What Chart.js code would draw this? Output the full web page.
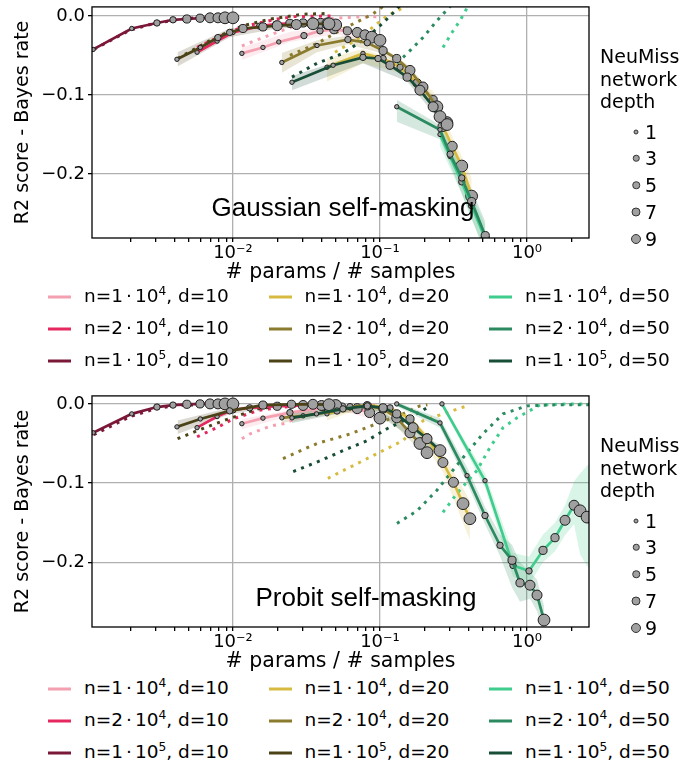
<!DOCTYPE html>
<html>
<head>
<meta charset="utf-8">
<script src="https://cdn.jsdelivr.net/npm/chart.js@4.4.1/dist/chart.umd.min.js"></script>
<style>
  body { margin: 0; background: #fff; }
  #page { position: relative; width: 686px; height: 769px; overflow: hidden; font-family: "DejaVu Sans", sans-serif; color: #000; }
  canvas { position: absolute; left: 0; }
  .t { position: absolute; white-space: nowrap; }
  .note { font-family: "Liberation Sans", Arial, sans-serif; font-size: 26px; line-height: 26px; transform: translate(-50%, -50%); }
  .leg { font-size: 18.5px; line-height: 22px; transform: translateY(-50%); }
  .leg sup { font-size: 66%; vertical-align: 0; position: relative; top: -0.55em; }
  .cd { margin: 0 3px; }
  .sw { position: absolute; height: 3px; width: 23px; transform: translateY(-50%); }
  .depth { font-size: 19px; line-height: 22.5px; }
  .dot { position: absolute; border-radius: 50%; background: #a0a0a0; border: 1px solid #333; box-sizing: border-box; transform: translate(-50%, -50%); }
</style>
</head>
<body>
<div id="page">
  <canvas id="gauss" width="686" height="286" style="top:0"></canvas>
  <canvas id="probit" width="686" height="286" style="top:389px"></canvas>
</div>
<script>
// ---- axes ----
const X_MIN = 0.0011, X_MAX = 2.64;
const X_MAJOR = [0.01, 0.1, 1];
const X_MAJOR_LABELS = ['10⁻²', '10⁻¹', '10⁰'];
const X_MINOR = [0.002, 0.003, 0.004, 0.005, 0.006, 0.007, 0.008, 0.009,
  0.02, 0.03, 0.04, 0.05, 0.06, 0.07, 0.08, 0.09,
  0.2, 0.3, 0.4, 0.5, 0.6, 0.7, 0.8, 0.9, 2];
const Y_TICKS = [-0.2, -0.1, 0];
const Y_TICK_LABELS = ['−0.2', '−0.1', '0.0'];
const G_Y_RANGE = [-0.281, 0.0113];
const P_Y_RANGE = [-0.2818, 0.0101];

// ---- legend text ----
const N_MANT = ['1', '2', '1'];
const N_EXP = ['4', '4', '5'];
const D_VALUES = ['10', '20', '50'];
const DEPTHS = [1, 3, 5, 7, 9];
const LEGEND_DOT = [5, 6.5, 7.5, 9, 10];
const DEPTH_RADIUS = { 0: 0, 1: 2.2, 3: 3.2, 5: 4.1, 7: 5, 9: 5.9 };

// colours: columns d=10, 20, 50 ; rows n=1e4, 2e4, 1e5
const PALETTE = [
  ['#f4a0b0', '#e5285f', '#7b1838'],
  ['#d6bb40', '#8b7b2e', '#4b4317'],
  ['#3fcc8d', '#2b8a5f', '#184d36']
];

// ================= Gaussian self-masking =================
// d=10, n=1e4
const G_X_D10_N1E4 = [0.0115, 0.0160, 0.0205, 0.0304, 0.0391, 0.0486, 0.060, 0.070, 0.079, 0.088, 0.100];
const G_Y_D10_N1E4 = [-0.0475, -0.040, -0.033, -0.025, -0.019, -0.0175, -0.019, -0.021, -0.024, -0.027, -0.031];
const G_DEP_D10_N1E4 = [1, 1, 1, 3, 3, 5, 5, 7, 7, 9, 9];
const G_DX_D10_N1E4 = [0.0115, 0.016, 0.0199, 0.0244, 0.035, 0.05, 0.07, 0.1];
const G_DY_D10_N1E4 = [-0.038, -0.0275, -0.021, -0.015, -0.006, -0.003, -0.0015, -0.001];
const G_BX_D10_N1E4 = [0.0115, 0.0244, 0.05, 0.1];
const G_LO_D10_N1E4 = [-0.056, -0.033, -0.023, -0.036];
const G_HI_D10_N1E4 = [-0.040, -0.020, -0.013, -0.027];
// d=10, n=2e4
const G_X_D10_N2E4 = [0.0057, 0.0078, 0.0100, 0.0152, 0.0196, 0.0244, 0.030, 0.035, 0.0395, 0.0442, 0.050];
const G_Y_D10_N2E4 = [-0.046, -0.032, -0.021, -0.013, -0.0105, -0.0095, -0.009, -0.009, -0.0095, -0.010, -0.0115];
const G_DEP_D10_N2E4 = [1, 1, 1, 3, 3, 5, 5, 7, 7, 9, 9];
const G_DX_D10_N2E4 = [0.0057, 0.0095, 0.0125, 0.020, 0.026, 0.050];
const G_DY_D10_N2E4 = [-0.040, -0.020, -0.0125, -0.004, -0.001, 0.0];
// d=10, n=1e5
const G_X_D10_N1E5 = [0.0009, 0.00112, 0.00205, 0.00304, 0.00391, 0.00486, 0.00597, 0.00698, 0.00791, 0.00883, 0.0100];
const G_Y_D10_N1E5 = [-0.052, -0.0425, -0.016, -0.009, -0.005, -0.004, -0.003, -0.0025, -0.0025, -0.0025, -0.0025];
const G_DEP_D10_N1E5 = [0, 1, 1, 3, 3, 5, 5, 7, 7, 9, 9];
const G_DX_D10_N1E5 = [0.0009, 0.0012, 0.002, 0.003, 0.005, 0.01];
const G_DY_D10_N1E5 = [-0.052, -0.040, -0.018, -0.009, -0.003, -0.001];
// d=20, n=1e4
const G_X_D20_N1E4 = [0.0436, 0.0766, 0.105, 0.137, 0.179, 0.230, 0.268, 0.310, 0.360, 0.420];
const G_Y_D20_N1E4 = [-0.065, -0.0475, -0.054, -0.065, -0.085, -0.106, -0.140, -0.165, -0.190, -0.228];
const G_DEP_D20_N1E4 = [1, 1, 3, 3, 5, 5, 7, 7, 9, 9];
const G_DX_D20_N1E4 = [0.0494, 0.0731, 0.0954, 0.1116, 0.13, 0.143, 0.16];
const G_DY_D20_N1E4 = [-0.046, -0.0275, -0.010, 0.0, 0.006, 0.010, 0.015];
const G_BX_D20_N1E4 = [0.0436, 0.0766, 0.137, 0.230, 0.310, 0.420];
const G_LO_D20_N1E4 = [-0.083, -0.060, -0.072, -0.116, -0.182, -0.250];
const G_HI_D20_N1E4 = [-0.054, -0.042, -0.058, -0.096, -0.152, -0.205];
// d=20, n=2e4
const G_X_D20_N2E4 = [0.0215, 0.0373, 0.0605, 0.082, 0.105, 0.130, 0.160, 0.196, 0.244, 0.285];
const G_Y_D20_N2E4 = [-0.059, -0.0375, -0.030, -0.034, -0.044, -0.054, -0.069, -0.090, -0.115, -0.135];
const G_DEP_D20_N2E4 = [1, 1, 3, 3, 5, 5, 7, 7, 9, 9];
const G_DX_D20_N2E4 = [0.0244, 0.0373, 0.056, 0.0766, 0.0896, 0.1, 0.11];
const G_DY_D20_N2E4 = [-0.050, -0.035, -0.0165, -0.004, 0.0025, 0.009, 0.015];
const G_BX_D20_N2E4 = [0.0215, 0.0373, 0.0605, 0.105, 0.16, 0.244];
const G_LO_D20_N2E4 = [-0.072, -0.046, -0.036, -0.048, -0.074, -0.121];
const G_HI_D20_N2E4 = [-0.047, -0.031, -0.025, -0.040, -0.064, -0.108];
// d=20, n=1e5
const G_X_D20_N1E5 = [0.00416, 0.0060, 0.0079, 0.0095, 0.0117, 0.0160, 0.0200, 0.0270, 0.0350, 0.0450];
const G_Y_D20_N1E5 = [-0.055, -0.040, -0.0275, -0.021, -0.016, -0.014, -0.0125, -0.011, -0.010, -0.010];
const G_DEP_D20_N1E5 = [1, 1, 3, 3, 5, 5, 7, 7, 9, 9];
const G_DX_D20_N1E5 = [0.0042, 0.0075, 0.0115, 0.018, 0.030, 0.045];
const G_DY_D20_N1E5 = [-0.054, -0.028, -0.013, -0.004, 0.002, 0.003];
const G_BX_D20_N1E5 = [0.0042, 0.0095, 0.02, 0.045];
const G_LO_D20_N1E5 = [-0.064, -0.027, -0.016, -0.013];
const G_HI_D20_N1E5 = [-0.046, -0.016, -0.010, -0.008];
// d=50, n=1e4
const G_X_D50_N1E4 = [0.256, 0.300, 0.360, 0.420, 0.520, 0.600];
const G_Y_D50_N1E4 = [-0.150, -0.178, -0.210, -0.240, -0.282, -0.310];
const G_DEP_D50_N1E4 = [1, 1, 3, 3, 5, 5];
const G_DX_D50_N1E4 = [0.2683, 0.309, 0.35, 0.391, 0.41];
const G_DY_D50_N1E4 = [-0.040, -0.021, -0.006, 0.010, 0.015];
const G_BX_D50_N1E4 = [0.256, 0.36, 0.52];
const G_LO_D50_N1E4 = [-0.165, -0.225, -0.300];
const G_HI_D50_N1E4 = [-0.140, -0.195, -0.265];
// d=50, n=2e4
const G_X_D50_N2E4 = [0.130, 0.256, 0.300, 0.360, 0.420, 0.520, 0.600];
const G_Y_D50_N2E4 = [-0.115, -0.144, -0.175, -0.205, -0.235, -0.278, -0.310];
const G_DEP_D50_N2E4 = [1, 1, 3, 3, 5, 5, 7];
const G_DX_D50_N2E4 = [0.1305, 0.16, 0.196, 0.2443, 0.29, 0.31];
const G_DY_D50_N2E4 = [-0.060, -0.044, -0.0275, -0.006, 0.009, 0.015];
const G_BX_D50_N2E4 = [0.13, 0.256, 0.36, 0.52];
const G_LO_D50_N2E4 = [-0.134, -0.156, -0.225, -0.300];
const G_HI_D50_N2E4 = [-0.106, -0.138, -0.190, -0.260];
// d=50, n=1e5
const G_X_D50_N1E5 = [0.0252, 0.048, 0.0766, 0.097, 0.117, 0.153, 0.187, 0.230, 0.256, 0.286];
const G_Y_D50_N1E5 = [-0.084, -0.0625, -0.0525, -0.054, -0.0625, -0.0775, -0.094, -0.115, -0.1275, -0.1375];
const G_DEP_D50_N1E5 = [1, 1, 3, 3, 5, 5, 7, 7, 9, 9];
const G_DX_D50_N1E5 = [0.0252, 0.0373, 0.056, 0.0816, 0.1, 0.1116, 0.1265, 0.14];
const G_DY_D50_N1E5 = [-0.0775, -0.060, -0.0475, -0.0275, -0.0125, -0.004, 0.006, 0.015];
const G_BX_D50_N1E5 = [0.0252, 0.0766, 0.153, 0.256];
const G_LO_D50_N1E5 = [-0.094, -0.060, -0.083, -0.133];
const G_HI_D50_N1E5 = [-0.076, -0.047, -0.072, -0.121];

// ================= Probit self-masking =================
// d=10, n=1e4
const P_X_D10_N1E4 = [0.0115, 0.016, 0.0244, 0.041, 0.055, 0.070, 0.085, 0.100];
const P_Y_D10_N1E4 = [-0.025, -0.018, -0.011, -0.005, -0.004, -0.006, -0.011, -0.018];
const P_DEP_D10_N1E4 = [1, 1, 3, 3, 5, 7, 7, 9];
const P_DX_D10_N1E4 = [0.0115, 0.013, 0.018, 0.022, 0.030, 0.045, 0.070, 0.100];
const P_DY_D10_N1E4 = [-0.044, -0.038, -0.028, -0.025, -0.015, -0.005, -0.002, -0.001];
const P_BX_D10_N1E4 = [0.0115, 0.0244, 0.05, 0.1];
const P_LO_D10_N1E4 = [-0.032, -0.015, -0.007, -0.022];
const P_HI_D10_N1E4 = [-0.019, -0.008, -0.002, -0.014];
// d=10, n=2e4
const P_X_D10_N2E4 = [0.0057, 0.0078, 0.0100, 0.0130, 0.0200, 0.0300, 0.0400, 0.0500];
const P_Y_D10_N2E4 = [-0.030, -0.016, -0.0075, -0.005, -0.003, -0.002, -0.002, -0.002];
const P_DEP_D10_N2E4 = [1, 1, 3, 3, 5, 7, 7, 9];
const P_DX_D10_N2E4 = [0.0057, 0.0078, 0.0100, 0.015, 0.025, 0.050];
const P_DY_D10_N2E4 = [-0.0415, -0.030, -0.019, -0.008, -0.003, -0.001];
// d=10, n=1e5
const P_X_D10_N1E5 = [0.0009, 0.00112, 0.00205, 0.00304, 0.00391, 0.00486, 0.00597, 0.00698, 0.00791, 0.00883, 0.0100];
const P_Y_D10_N1E5 = [-0.045, -0.0365, -0.0126, -0.004, -0.0015, -0.0005, 0.0, 0.0, 0.0, 0.0, 0.0];
const P_DEP_D10_N1E5 = [0, 1, 1, 3, 3, 5, 5, 7, 7, 9, 9];
const P_DX_D10_N1E5 = [0.0009, 0.0011, 0.002, 0.003, 0.004, 0.01];
const P_DY_D10_N1E5 = [-0.050, -0.040, -0.016, -0.006, -0.002, 0.0];
// d=20, n=1e4
const P_X_D20_N1E4 = [0.0436, 0.0625, 0.0816, 0.117, 0.160, 0.209, 0.268, 0.316, 0.367, 0.409];
const P_Y_D20_N1E4 = [-0.0126, -0.005, -0.0013, -0.005, -0.019, -0.043, -0.074, -0.099, -0.126, -0.145];
const P_DEP_D20_N1E4 = [1, 1, 3, 3, 5, 5, 7, 7, 9, 9];
const P_DX_D20_N1E4 = [0.0442, 0.0625, 0.095, 0.143, 0.196, 0.268, 0.391];
const P_DY_D20_N1E4 = [-0.094, -0.080, -0.063, -0.0465, -0.0214, -0.0126, -0.0025];
const P_BX_D20_N1E4 = [0.0436, 0.08, 0.16, 0.268, 0.409];
const P_LO_D20_N1E4 = [-0.021, -0.004, -0.024, -0.086, -0.172];
const P_HI_D20_N1E4 = [-0.005, 0.0, -0.014, -0.062, -0.122];
// d=20, n=2e4
const P_X_D20_N2E4 = [0.0215, 0.030, 0.051, 0.0625, 0.082, 0.105, 0.130, 0.160, 0.187, 0.209];
const P_Y_D20_N2E4 = [-0.0176, -0.015, -0.009, -0.0035, -0.0025, -0.0063, -0.0176, -0.0365, -0.050, -0.0616];
const P_DEP_D20_N2E4 = [1, 1, 3, 3, 5, 5, 7, 7, 9, 9];
const P_DX_D20_N2E4 = [0.0219, 0.0373, 0.0625, 0.095, 0.143, 0.187, 0.21];
const P_DY_D20_N2E4 = [-0.069, -0.050, -0.038, -0.025, -0.0126, -0.0025, -0.001];
const P_BX_D20_N2E4 = [0.0215, 0.05, 0.1, 0.209];
const P_LO_D20_N2E4 = [-0.024, -0.012, -0.009, -0.067];
const P_HI_D20_N2E4 = [-0.012, -0.006, -0.004, -0.056];
// d=20, n=1e5
const P_X_D20_N1E5 = [0.00416, 0.006, 0.0095, 0.016, 0.025, 0.035, 0.045];
const P_Y_D20_N1E5 = [-0.029, -0.019, -0.0088, -0.0015, -0.0005, -0.0005, -0.001];
const P_DEP_D20_N1E5 = [1, 1, 3, 5, 5, 7, 9];
const P_DX_D20_N1E5 = [0.0042, 0.0057, 0.0076, 0.0100, 0.015, 0.025, 0.045];
const P_DY_D20_N1E5 = [-0.044, -0.034, -0.025, -0.017, -0.006, -0.001, 0.0];
const P_BX_D20_N1E5 = [0.0042, 0.0095, 0.02];
const P_LO_D20_N1E5 = [-0.038, -0.013, -0.003];
const P_HI_D20_N1E5 = [-0.021, -0.005, 0.0];
// d=50, n=1e4
const P_X_D50_N1E4 = [0.264, 0.518, 0.803, 1.032, 1.285, 1.55, 1.814, 2.089, 2.295, 2.56, 2.9];
const P_Y_D50_N1E4 = [0.0, -0.097, -0.204, -0.211, -0.185, -0.169, -0.147, -0.128, -0.135, -0.143, -0.150];
const P_DEP_D50_N1E4 = [1, 1, 3, 3, 5, 5, 7, 7, 9, 9, 9];
const P_DX_D50_N1E4 = [0.268, 0.334, 0.457, 0.56, 0.687, 0.855, 1.225, 2.0, 2.64];
const P_DY_D50_N1E4 = [-0.137, -0.113, -0.084, -0.055, -0.030, -0.0176, -0.0013, 0.0, 0.0];
const P_BX_D50_N1E4 = [0.264, 0.518, 0.803, 1.032, 1.285, 1.55, 1.814, 2.089, 2.295, 2.56, 2.9];
const P_LO_D50_N1E4 = [-0.003, -0.106, -0.218, -0.228, -0.200, -0.186, -0.166, -0.152, -0.190, -0.205, -0.210];
const P_HI_D50_N1E4 = [0.002, -0.088, -0.188, -0.193, -0.165, -0.150, -0.128, -0.098, -0.088, -0.078, -0.070];
// d=50, n=2e4
const P_X_D50_N2E4 = [0.130, 0.256, 0.391, 0.518, 0.655, 0.791, 0.896, 1.048, 1.170, 1.305];
const P_Y_D50_N2E4 = [0.0, -0.024, -0.0906, -0.141, -0.1786, -0.1975, -0.226, -0.229, -0.2415, -0.273];
const P_DEP_D50_N2E4 = [1, 1, 1, 3, 3, 5, 5, 7, 7, 9];
const P_DX_D50_N2E4 = [0.1305, 0.179, 0.244, 0.367, 0.50, 0.687, 1.0, 1.6, 2.64];
const P_DY_D50_N2E4 = [-0.151, -0.135, -0.109, -0.068, -0.038, -0.0126, -0.0025, -0.001, -0.001];
const P_BX_D50_N2E4 = [0.13, 0.256, 0.391, 0.518, 0.655, 0.791, 0.896, 1.048, 1.17, 1.305];
const P_LO_D50_N2E4 = [-0.003, -0.030, -0.100, -0.152, -0.192, -0.232, -0.250, -0.246, -0.262, -0.292];
const P_HI_D50_N2E4 = [0.002, -0.018, -0.080, -0.130, -0.165, -0.178, -0.200, -0.212, -0.222, -0.255];
// d=50, n=1e5
const P_X_D50_N1E5 = [0.0252, 0.037, 0.056, 0.082, 0.105, 0.130, 0.168, 0.209, 0.256];
const P_Y_D50_N1E5 = [-0.0176, -0.0126, -0.0063, -0.0025, -0.005, -0.0126, -0.030, -0.044, -0.059];
const P_DEP_D50_N1E5 = [1, 1, 3, 3, 5, 5, 7, 7, 9];
const P_DX_D50_N1E5 = [0.0257, 0.039, 0.056, 0.0816, 0.1116, 0.153, 0.209];
const P_DY_D50_N1E5 = [-0.0855, -0.072, -0.059, -0.0465, -0.0314, -0.019, -0.005];
const P_BX_D50_N1E5 = [0.0252, 0.082, 0.256];
const P_LO_D50_N1E5 = [-0.024, -0.005, -0.066];
const P_HI_D50_N1E5 = [-0.011, 0.0, -0.052];

const G_SERIES = [
  { c: PALETTE[0][0], x: G_X_D10_N1E4, y: G_Y_D10_N1E4, dep: G_DEP_D10_N1E4, dx: G_DX_D10_N1E4, dy: G_DY_D10_N1E4, bx: G_BX_D10_N1E4, lo: G_LO_D10_N1E4, hi: G_HI_D10_N1E4 },
  { c: PALETTE[0][1], x: G_X_D10_N2E4, y: G_Y_D10_N2E4, dep: G_DEP_D10_N2E4, dx: G_DX_D10_N2E4, dy: G_DY_D10_N2E4 },
  { c: PALETTE[0][2], x: G_X_D10_N1E5, y: G_Y_D10_N1E5, dep: G_DEP_D10_N1E5, dx: G_DX_D10_N1E5, dy: G_DY_D10_N1E5 },
  { c: PALETTE[1][0], x: G_X_D20_N1E4, y: G_Y_D20_N1E4, dep: G_DEP_D20_N1E4, dx: G_DX_D20_N1E4, dy: G_DY_D20_N1E4, bx: G_BX_D20_N1E4, lo: G_LO_D20_N1E4, hi: G_HI_D20_N1E4 },
  { c: PALETTE[1][1], x: G_X_D20_N2E4, y: G_Y_D20_N2E4, dep: G_DEP_D20_N2E4, dx: G_DX_D20_N2E4, dy: G_DY_D20_N2E4, bx: G_BX_D20_N2E4, lo: G_LO_D20_N2E4, hi: G_HI_D20_N2E4 },
  { c: PALETTE[1][2], x: G_X_D20_N1E5, y: G_Y_D20_N1E5, dep: G_DEP_D20_N1E5, dx: G_DX_D20_N1E5, dy: G_DY_D20_N1E5, bx: G_BX_D20_N1E5, lo: G_LO_D20_N1E5, hi: G_HI_D20_N1E5 },
  { c: PALETTE[2][0], x: G_X_D50_N1E4, y: G_Y_D50_N1E4, dep: G_DEP_D50_N1E4, dx: G_DX_D50_N1E4, dy: G_DY_D50_N1E4, bx: G_BX_D50_N1E4, lo: G_LO_D50_N1E4, hi: G_HI_D50_N1E4 },
  { c: PALETTE[2][1], x: G_X_D50_N2E4, y: G_Y_D50_N2E4, dep: G_DEP_D50_N2E4, dx: G_DX_D50_N2E4, dy: G_DY_D50_N2E4, bx: G_BX_D50_N2E4, lo: G_LO_D50_N2E4, hi: G_HI_D50_N2E4 },
  { c: PALETTE[2][2], x: G_X_D50_N1E5, y: G_Y_D50_N1E5, dep: G_DEP_D50_N1E5, dx: G_DX_D50_N1E5, dy: G_DY_D50_N1E5, bx: G_BX_D50_N1E5, lo: G_LO_D50_N1E5, hi: G_HI_D50_N1E5 }
];

const P_SERIES = [
  { c: PALETTE[0][0], x: P_X_D10_N1E4, y: P_Y_D10_N1E4, dep: P_DEP_D10_N1E4, dx: P_DX_D10_N1E4, dy: P_DY_D10_N1E4, bx: P_BX_D10_N1E4, lo: P_LO_D10_N1E4, hi: P_HI_D10_N1E4 },
  { c: PALETTE[0][1], x: P_X_D10_N2E4, y: P_Y_D10_N2E4, dep: P_DEP_D10_N2E4, dx: P_DX_D10_N2E4, dy: P_DY_D10_N2E4 },
  { c: PALETTE[0][2], x: P_X_D10_N1E5, y: P_Y_D10_N1E5, dep: P_DEP_D10_N1E5, dx: P_DX_D10_N1E5, dy: P_DY_D10_N1E5 },
  { c: PALETTE[1][0], x: P_X_D20_N1E4, y: P_Y_D20_N1E4, dep: P_DEP_D20_N1E4, dx: P_DX_D20_N1E4, dy: P_DY_D20_N1E4, bx: P_BX_D20_N1E4, lo: P_LO_D20_N1E4, hi: P_HI_D20_N1E4 },
  { c: PALETTE[1][1], x: P_X_D20_N2E4, y: P_Y_D20_N2E4, dep: P_DEP_D20_N2E4, dx: P_DX_D20_N2E4, dy: P_DY_D20_N2E4, bx: P_BX_D20_N2E4, lo: P_LO_D20_N2E4, hi: P_HI_D20_N2E4 },
  { c: PALETTE[1][2], x: P_X_D20_N1E5, y: P_Y_D20_N1E5, dep: P_DEP_D20_N1E5, dx: P_DX_D20_N1E5, dy: P_DY_D20_N1E5, bx: P_BX_D20_N1E5, lo: P_LO_D20_N1E5, hi: P_HI_D20_N1E5 },
  { c: PALETTE[2][0], x: P_X_D50_N1E4, y: P_Y_D50_N1E4, dep: P_DEP_D50_N1E4, dx: P_DX_D50_N1E4, dy: P_DY_D50_N1E4, bx: P_BX_D50_N1E4, lo: P_LO_D50_N1E4, hi: P_HI_D50_N1E4 },
  { c: PALETTE[2][1], x: P_X_D50_N2E4, y: P_Y_D50_N2E4, dep: P_DEP_D50_N2E4, dx: P_DX_D50_N2E4, dy: P_DY_D50_N2E4, bx: P_BX_D50_N2E4, lo: P_LO_D50_N2E4, hi: P_HI_D50_N2E4 },
  { c: PALETTE[2][2], x: P_X_D50_N1E5, y: P_Y_D50_N1E5, dep: P_DEP_D50_N1E5, dx: P_DX_D50_N1E5, dy: P_DY_D50_N1E5, bx: P_BX_D50_N1E5, lo: P_LO_D50_N1E5, hi: P_HI_D50_N1E5 }
];

const FONT = 'DejaVu Sans';

function pts(xs, ys) {
  return xs.map((x, i) => ({ x, y: ys[i] }));
}

function alpha(hex, a) {
  const n = parseInt(hex.slice(1), 16);
  return `rgba(${n >> 16},${(n >> 8) & 255},${n & 255},${a})`;
}

function buildDatasets(series) {
  const solid = [], dotted = [], bands = [];
  // later series were drawn on top in the original, so put them first
  for (const s of [...series].reverse()) {
    solid.push({
      data: pts(s.x, s.y), borderColor: s.c, borderWidth: 2.7, tension: 0, clip: 0, order: 0,
      pointRadius: s.dep.map(d => DEPTH_RADIUS[d]), pointBackgroundColor: '#a0a0a0',
      pointBorderColor: '#1e1e1e', pointBorderWidth: 1
    });
    dotted.push({
      data: pts(s.dx, s.dy), borderColor: s.c, borderWidth: 3, borderDash: [3, 5.5],
      borderCapStyle: 'butt', pointRadius: 0, tension: 0, clip: 0, order: 1
    });
    if (s.bx) {
      bands.push({ data: pts(s.bx, s.lo), borderWidth: 0, pointRadius: 0, fill: false, clip: 0, order: 2 });
      bands.push({ data: pts(s.bx, s.hi), borderWidth: 0, pointRadius: 0, fill: '-1', backgroundColor: alpha(s.c, 0.2), clip: 0, order: 2 });
    }
  }
  return [...solid, ...dotted, ...bands];
}

// full matplotlib-style frame around the plot
const frame = {
  id: 'frame',
  afterDatasetsDraw(chart) {
    const { ctx, chartArea: a } = chart;
    ctx.save();
    ctx.strokeStyle = '#000';
    ctx.lineWidth = 1.3;
    ctx.strokeRect(a.left, a.top, a.right - a.left, a.bottom - a.top);
    ctx.restore();
  }
};

function makePanel(id, series, yRange) {
  const ctx = document.getElementById(id).getContext('2d');
  return new Chart(ctx, {
    type: 'line',
    data: { datasets: buildDatasets(series) },
    options: {
      responsive: false,
      animation: false,
      devicePixelRatio: 1,
      events: [],
      layout: { padding: { left: 0, top: 6, right: 97, bottom: 0 } },
      plugins: { legend: { display: false }, tooltip: { enabled: false } },
      scales: {
        x: {
          type: 'logarithmic', min: X_MIN, max: X_MAX,
          afterBuildTicks: s => { s.ticks = [...X_MAJOR, ...X_MINOR].sort((a, b) => a - b).map(v => ({ value: v })); },
          afterFit: s => { s.height = 48; s.paddingLeft = 0; s.paddingRight = 0; },
          ticks: {
            autoSkip: false, maxRotation: 0, padding: 1, color: '#000',
            font: { family: FONT, size: 18 },
            callback: v => { const i = X_MAJOR.indexOf(v); return i >= 0 ? X_MAJOR_LABELS[i] : ''; }
          },
          grid: {
            color: c => (c.tick && X_MAJOR.includes(c.tick.value)) ? '#b0b0b0' : 'rgba(0,0,0,0)',
            lineWidth: 1.3, tickColor: '#000', tickLength: 4
          },
          border: { display: false },
          title: { display: true, text: '# params / # samples', color: '#000', font: { family: FONT, size: 20.5 }, padding: { top: 0, bottom: 1.5 } }
        },
        y: {
          min: yRange[0], max: yRange[1],
          afterBuildTicks: s => { s.ticks = Y_TICKS.map(v => ({ value: v })); },
          afterFit: s => { s.width = 92; s.paddingTop = 0; s.paddingBottom = 0; },
          ticks: {
            color: '#000', padding: 3, font: { family: FONT, size: 18 },
            callback: v => Y_TICK_LABELS[Y_TICKS.indexOf(v)]
          },
          grid: { color: '#b0b0b0', lineWidth: 1.3, tickColor: '#000', tickLength: 4 },
          border: { display: false },
          title: { display: true, text: 'R2 score - Bayes rate', color: '#000', font: { family: FONT, size: 19 }, padding: { top: 12, bottom: 0 } }
        }
      }
    },
    plugins: [frame]
  });
}

makePanel('gauss', G_SERIES, G_Y_RANGE);
makePanel('probit', P_SERIES, P_Y_RANGE);

// ---- text overlays: annotation, depth legend, series legend ----
const page = document.getElementById('page');
function addDiv(cls, style, html) {
  const d = document.createElement('div');
  d.className = cls;
  Object.assign(d.style, style);
  d.innerHTML = html;
  page.appendChild(d);
}

function panelText(top, note, noteX, noteY, rows) {
  addDiv('t note', { left: noteX + 'px', top: noteY + 'px' }, note);
  addDiv('t depth', { left: '600px', top: (top + 45) + 'px' }, 'NeuMiss<br>network<br>depth');
  DEPTHS.forEach((d, i) => {
    const cy = top + 131.7 + i * 26.7;
    addDiv('dot', { left: '636px', top: cy + 'px', width: LEGEND_DOT[i] + 'px', height: LEGEND_DOT[i] + 'px' }, '');
    addDiv('t leg', { left: '645px', top: cy + 'px', fontSize: '19px' }, String(d));
  });
  PALETTE.forEach((col, ci) => {
    rows.forEach((ry, ri) => {
      const x0 = 48 + ci * 220.5;
      addDiv('sw', { left: x0 + 'px', top: ry + 'px', background: col[ri] }, '');
      addDiv('t leg', { left: (x0 + 36) + 'px', top: ry + 'px' },
        `n=${N_MANT[ri]}<span class="cd">·</span>10<sup>${N_EXP[ri]}</sup>, d=${D_VALUES[ci]}`);
    });
  });
}

panelText(0, 'Gaussian self-masking', 343, 207, [297, 329, 361]);
panelText(389, 'Probit self-masking', 366, 597, [689, 721, 753]);
</script>
</body>
</html>
